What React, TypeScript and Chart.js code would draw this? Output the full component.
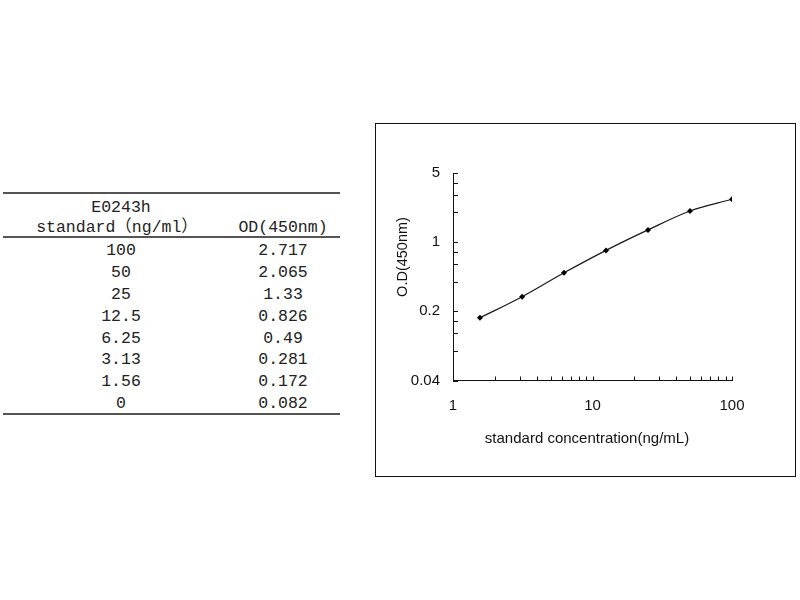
import React, { useEffect, useRef } from "react";
import { Chart, registerables } from "chart.js";

Chart.register(...registerables);

// ---- data ----
const tableTitle = "E0243h";
const colHeaders = ["standard（ng/ml）", "OD(450nm)"];
const concentrations = [100, 50, 25, 12.5, 6.25, 3.13, 1.56, 0];
const concentrationLabels = ["100", "50", "25", "12.5", "6.25", "3.13", "1.56", "0"];
const odValues = [2.717, 2.065, 1.33, 0.826, 0.49, 0.281, 0.172, 0.082];
const odLabels = ["2.717", "2.065", "1.33", "0.826", "0.49", "0.281", "0.172", "0.082"];

const xTickValues = [1, 2, 3, 4, 5, 6, 7, 8, 9, 10, 20, 30, 40, 50, 60, 70, 80, 90, 100];
const xTickLabels = [1, 10, 100];
const yTickValues = [0.04, 0.08, 0.12, 0.16, 0.2, 0.4, 0.6, 0.8, 1, 2, 3, 4, 5];
const yTickLabels = [0.04, 0.2, 1, 5];
const xTitle = "standard concentration(ng/mL)";
const yTitle = "O.D(450nm)";

const FONT = "'Liberation Sans', Arial, sans-serif";
const TABLE_FONT = "'Liberation Mono', 'Noto Sans CJK SC', monospace";

const tickMarksPlugin = {
  id: "tickMarks",
  afterDraw(chart: any) {
    const { ctx, chartArea } = chart;
    const xs = chart.scales.x;
    const ys = chart.scales.y;
    ctx.save();
    ctx.strokeStyle = "#111";
    ctx.lineWidth = 1;
    ctx.beginPath();
    xTickValues.forEach((v) => {
      const px = Math.round(xs.getPixelForValue(v)) + 0.5;
      ctx.moveTo(px, chartArea.bottom);
      ctx.lineTo(px, chartArea.bottom - 4);
    });
    yTickValues.forEach((v) => {
      const py = Math.round(ys.getPixelForValue(v)) + 0.5;
      ctx.moveTo(chartArea.left, py);
      ctx.lineTo(chartArea.left + 5, py);
    });
    ctx.stroke();
    // axis titles
    ctx.fillStyle = "#111";
    ctx.textAlign = "center";
    ctx.textBaseline = "middle";
    ctx.font = `15px ${FONT}`;
    ctx.fillText(xTitle, 587, 439);
    ctx.font = `14.5px ${FONT}`;
    ctx.translate(403, 257);
    ctx.rotate(-Math.PI / 2);
    ctx.fillText(yTitle, 0, 0);
    ctx.restore();
  },
};

function App() {
  const canvasRef = useRef<HTMLCanvasElement | null>(null);

  useEffect(() => {
    if (!canvasRef.current) return;
    const points = concentrations
      .map((c, i) => ({ x: c, y: odValues[i] }))
      .filter((p) => p.x > 0)
      .sort((a, b) => a.x - b.x);
    const chart = new Chart(canvasRef.current, {
      type: "line",
      data: {
        datasets: [
          {
            data: points,
            borderColor: "#1a1a1a",
            borderWidth: 1.2,
            backgroundColor: "#000",
            pointStyle: "rectRot",
            pointRadius: 3,
            pointBorderWidth: 0,
            pointBackgroundColor: "#000",
            cubicInterpolationMode: "monotone",
            fill: false,
          },
        ],
      },
      plugins: [tickMarksPlugin],
      options: {
        responsive: false,
        animation: false,
        layout: { padding: { left: 375, right: 68, top: 173, bottom: 179.5 } },
        plugins: { legend: { display: false }, tooltip: { enabled: false } },
        scales: {
          x: {
            type: "logarithmic",
            min: 1,
            max: 100,
            afterFit: (s: any) => {
              s.height = 40;
            },
            afterBuildTicks: (s: any) => {
              s.ticks = xTickValues.map((v) => ({ value: v }));
            },
            ticks: {
              autoSkip: false,
              maxRotation: 0,
              padding: 16,
              color: "#111",
              font: { family: FONT, size: 15 },
              callback: (v: any) => (xTickLabels.includes(Number(v)) ? String(v) : ""),
            },
            grid: { display: false, drawTicks: false },
            border: { display: true, color: "#111", width: 1 },
          },
          y: {
            type: "logarithmic",
            min: 0.04,
            max: 5,
            afterFit: (s: any) => {
              s.width = 78;
            },
            afterBuildTicks: (s: any) => {
              s.ticks = yTickValues.map((v) => ({ value: v }));
            },
            ticks: {
              autoSkip: false,
              padding: 13,
              color: "#111",
              font: { family: FONT, size: 15 },
              callback: (v: any) =>
                yTickLabels.some((t) => Math.abs(t - Number(v)) < 1e-9) ? String(v) : "",
            },
            grid: { display: false, drawTicks: false },
            border: { display: true, color: "#111", width: 1 },
          },
        },
      },
    } as any);
    return () => chart.destroy();
  }, []);

  const col1 = 121;
  const col2 = 283;
  const rowTop = 250.7;
  const rowStep = 21.95;
  const cell = (text: string, cx: number, cy: number, key: string) => (
    <div
      key={key}
      style={{
        position: "absolute",
        left: cx - 100,
        width: 200,
        top: cy - 11,
        height: 22,
        lineHeight: "22px",
        textAlign: "center",
        fontFamily: TABLE_FONT,
        fontSize: 16.5,
        color: "#222",
        whiteSpace: "nowrap",
      }}
    >
      {text}
    </div>
  );
  const hline = (y: number, key: string) => (
    <div
      key={key}
      style={{ position: "absolute", left: 3, width: 337, top: y, height: 2, background: "#555" }}
    />
  );

  return (
    <div style={{ position: "absolute", left: 0, top: 0, width: 800, height: 600, background: "#fff" }}>
      {hline(191.5, "l1")}
      {hline(235.5, "l2")}
      {hline(413, "l3")}
      {cell(tableTitle, col1, 208.3, "t")}
      {cell(colHeaders[0], 117, 228.3, "h1")}
      {cell(colHeaders[1], col2, 228.3, "h2")}
      {concentrationLabels.map((c, i) => cell(c, col1, rowTop + i * rowStep, "c" + i))}
      {odLabels.map((o, i) => cell(o, col2, rowTop + i * rowStep, "o" + i))}
      <div
        style={{
          position: "absolute",
          left: 375,
          top: 123,
          width: 419,
          height: 352,
          border: "1px solid #111",
        }}
      />
      <canvas
        ref={canvasRef}
        width={800}
        height={600}
        style={{ position: "absolute", left: 0, top: 0, width: 800, height: 600 }}
      />
    </div>
  );
}

export default App;
